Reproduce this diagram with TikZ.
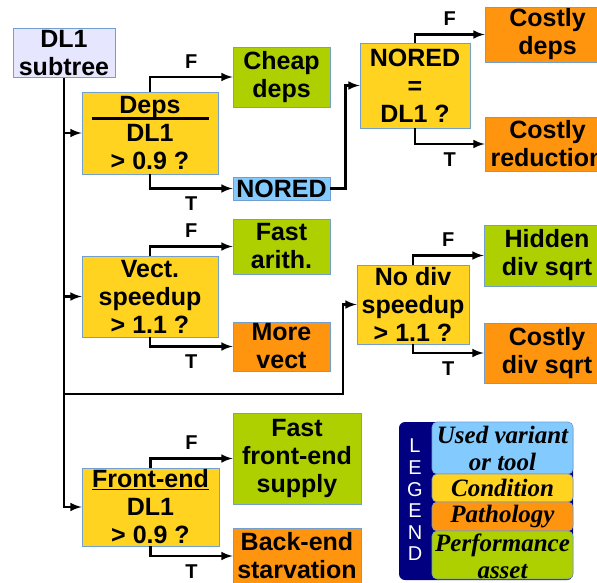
\documentclass[tikz,border=0pt]{standalone}
\usepackage{fontspec}
\setmainfont{Liberation Sans}
\newfontfamily\legendfont{Liberation Serif}
\usetikzlibrary{calc}
\definecolor{treefill}{HTML}{E6E6FF}
\definecolor{usedfill}{HTML}{83CAFF}
\definecolor{condfill}{HTML}{FFD320}
\definecolor{pathofill}{HTML}{FF950E}
\definecolor{assetfill}{HTML}{AECF00}
\definecolor{boxline}{HTML}{729FCF}
\definecolor{legendback}{HTML}{000080}

\begin{document}
\begin{tikzpicture}[x=1pt,y=-1pt,
  box/.style={draw=boxline,line width=0.8pt,align=center,inner sep=0pt,
    font=\bfseries\fontsize{25}{28}\selectfont},
  cond/.style={box,fill=condfill},
  patho/.style={box,fill=pathofill},
  asset/.style={box,fill=assetfill},
  used/.style={box,fill=usedfill},
  arr/.style={-latex,line width=2.8pt},
  lbl/.style={font=\bfseries\fontsize{20}{24}\selectfont},
  legrow/.style={draw=boxline,line width=0.6pt,rounded corners=5pt}]
  \useasboundingbox (0,0) rectangle (597,583);

  % subtree and conditions
  \node[box,fill=treefill,minimum width=102,minimum height=49] (sub) at (64,53) {DL1\\subtree};
  \node[cond,minimum width=136,minimum height=82] (deps) at (150,133) {Deps\\DL1\\> 0.9 ?};
  \node[cond,minimum width=110,minimum height=85] (ndl1) at (415,85.5) {NORED\\=\\DL1 ?};
  \node[cond,minimum width=136,minimum height=81] (vect) at (150,296.5) {Vect.\\speedup\\> 1.1 ?};
  \node[cond,minimum width=112,minimum height=79] (nodiv) at (413,304.5) {No div\\speedup\\> 1.1 ?};
  \node[cond,minimum width=137,minimum height=78] (front) at (150.5,507) {\underline{Front-end}\\DL1\\> 0.9 ?};
  \draw[line width=2.6pt] ($(deps.north west)+(10,27)$) -- ($(deps.north east)+(-9,27)$);

  % results
  \node[asset,minimum width=97,minimum height=60] (cheap) at (281.5,77) {Cheap\\deps};
  \node[used,minimum width=97,minimum height=23] (nored) at (281.5,188.5) {NORED};
  \node[patho,minimum width=125,minimum height=55] (cdeps) at (547.5,34.5) {Costly\\deps};
  \node[patho,minimum width=125,minimum height=54] (cred) at (547.5,144) {Costly\\reduction};
  \node[asset,minimum width=97,minimum height=55] (farith) at (281.5,246.5) {Fast\\arith.};
  \node[patho,minimum width=97,minimum height=49] (mvect) at (281.5,346.5) {More\\vect};
  \node[asset,minimum width=126,minimum height=61] (hidden) at (547,255.5) {Hidden\\div sqrt};
  \node[patho,minimum width=126,minimum height=60] (cdiv) at (547,353) {Costly\\div sqrt};
  \node[asset,minimum width=128,minimum height=91] (ffront) at (297,458.5) {Fast\\front-end\\supply};
  \node[patho,minimum width=128,minimum height=56] (back) at (297,556) {Back-end\\starvation};

  % trunk
  \coordinate (bend) at (343,394);
  \draw[arr] (sub.south) |- (front.west);
  \draw[arr] (sub.south |- deps.west) -- (deps.west);
  \draw[arr] (sub.south |- vect.west) -- (vect.west);
  \draw[arr] (sub.south |- bend) -- (bend) |- (nodiv.west);
  \draw[arr] (nored.east) -- ++(15,0) |- (ndl1.west);

  % branches
  \foreach \c/\f/\t in {deps/cheap/nored,ndl1/cdeps/cred,vect/farith/mvect,nodiv/hidden/cdiv,front/ffront/back} {
    \draw[arr] (\c.north) |- node[lbl,pos=.75,above=4pt] {F} (\f.west);
    \draw[arr] (\c.south) |- node[lbl,pos=.75,below=4pt] {T} (\t.west);
  }

  % legend
  \fill[legendback,rounded corners=6pt] (399,422) rectangle (573,580);
  \foreach[evaluate={446+21.6*\i} as \y] \i/\l in {0/L,1/E,2/G,3/E,4/N,5/D}
    \node[white,font=\fontsize{20}{20}\selectfont] at (415,\y) {\l};
  \draw[legrow,fill=usedfill] (432,422) rectangle (573,474);
  \draw[legrow,fill=condfill] (432,474) rectangle (573,502);
  \draw[legrow,fill=pathofill] (432,502) rectangle (573,531);
  \draw[legrow,fill=assetfill] (432,531) rectangle (573,579);
  \begin{scope}[every node/.style={align=center,font=\legendfont\bfseries\itshape\fontsize{25}{27}\selectfont}]
    \node (legused) at (502.5,448.5) {Used variant\\or tool};
    \node (legcond) at (502.5,488) {Condition};
    \node (legpatho) at (502.5,516.5) {Pathology};
    \node (legasset) at (502.5,556) {Performance\\asset};
  \end{scope}
\end{tikzpicture}
\end{document}
